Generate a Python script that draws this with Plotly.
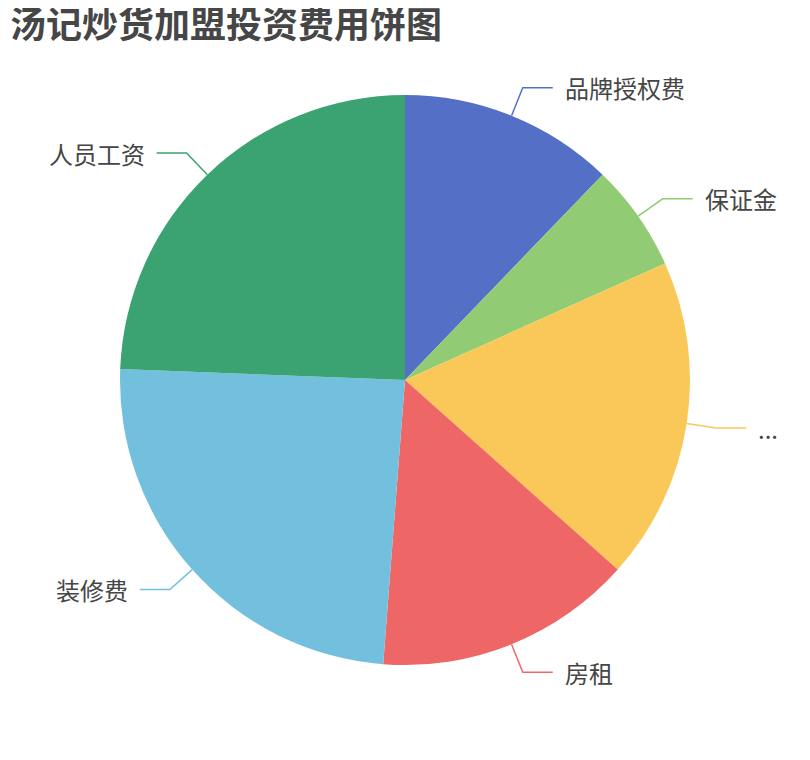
import math
import plotly.graph_objects as go

labels = ["品牌授权费", "保证金", "...", "房租", "装修费", "人员工资"]
values = [5, 2.5, 7.5, 6, 10, 10]
colors = ["#5470c6", "#91cc75", "#fac858", "#ee6666", "#73c0de", "#3ba272"]
title_text = "汤记炒货加盟投资费用饼图"

# page body adds an 8px margin, so the figure is drawn 8px smaller and shifted
OFF = 8
W, H = 810 - OFF, 760 - OFF
cx, cy, R = 405 - OFF, 380 - OFF, 285
L1, L2, GAP = 30, 30, 10
FONT = "Noto Sans CJK SC, Noto Sans, sans-serif"


def px(x):
    return x / W


def py(y):
    return 1 - y / H


fig = go.Figure(go.Pie(
    labels=labels, values=values, sort=False, direction="clockwise", rotation=0,
    marker=dict(colors=colors, line=dict(width=0)),
    textinfo="none", hoverinfo="label+value+percent", showlegend=False,
    domain=dict(x=[px(cx - R), px(cx + R)], y=[py(cy + R), py(cy - R)]),
))

total = sum(values)
cum = 0
shapes, annotations = [], []
for lab, val, col in zip(labels, values, colors):
    mid = (cum + val / 2) / total * 2 * math.pi
    cum += val
    s, c = math.sin(mid), math.cos(mid)
    x0, y0 = cx + R * s, cy - R * c
    x1, y1 = cx + (R + L1) * s, cy - (R + L1) * c
    side = 1 if s >= 0 else -1
    x2 = x1 + side * L2
    shapes.append(dict(
        type="path", xref="paper", yref="paper",
        path=f"M {px(x0)},{py(y0)} L {px(x1)},{py(y1)} L {px(x2)},{py(y1)}",
        line=dict(color=col, width=1.5),
    ))
    annotations.append(dict(
        text=lab, xref="paper", yref="paper", x=px(x2 + side * GAP), y=py(y1),
        xanchor="left" if side > 0 else "right", yanchor="middle", showarrow=False,
        font=dict(family=FONT, size=24, color="#464646"),
    ))

fig.update_layout(
    width=W, height=H, margin=dict(l=0, r=0, t=0, b=0),
    paper_bgcolor="white", plot_bgcolor="white",
    title=dict(text=f"<b>{title_text}</b>", x=px(10 - OFF), xanchor="left", xref="paper",
               y=py(25 - OFF), yanchor="middle", yref="paper",
               font=dict(family=FONT, size=36, color="#464646")),
    shapes=shapes, annotations=annotations,
)

fig.write_html("out.html")
